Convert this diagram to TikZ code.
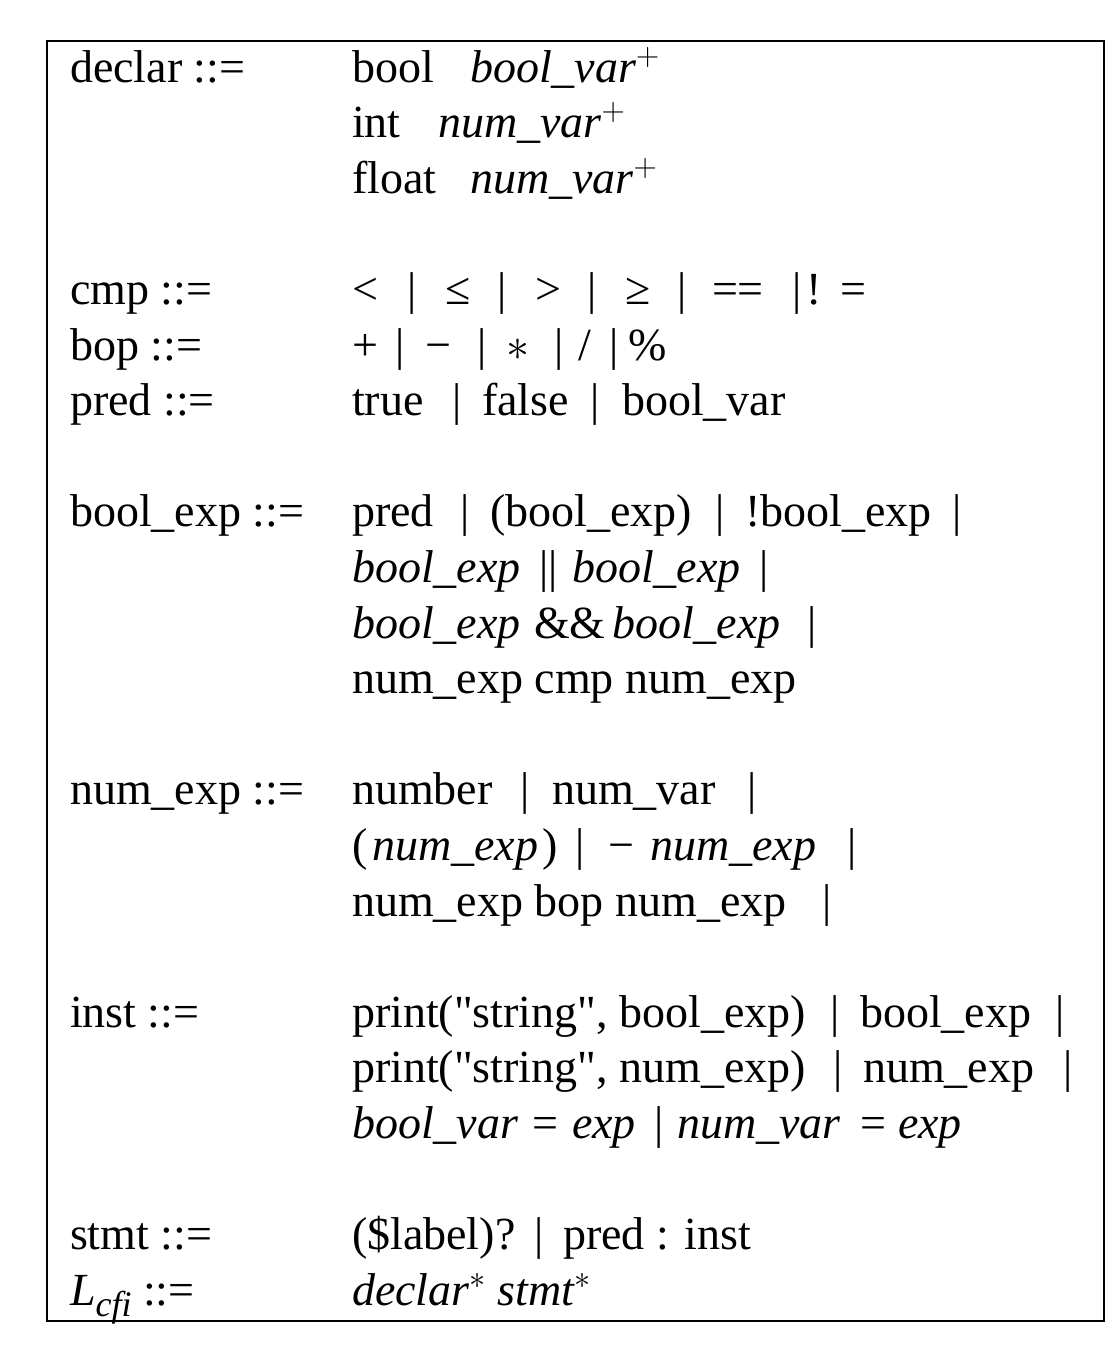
\RequirePackage{fix-cm}
\documentclass[tikz,border=0pt]{standalone}
\usepackage{fontspec}
\setmainfont{Liberation Serif}
\newfontfamily\plainrm{Liberation Serif}
\newcommand\iv[1]{{\itshape #1}}
\newcommand\sups[1]{\ensuremath{^{#1}}}
\newcommand\subs[1]{\raisebox{-0.24em}{\fontsize{36}{36}\selectfont\itshape #1}}
\tikzset{
  txt/.style={anchor=base west, inner sep=0pt, outer sep=0pt, font=\fontsize{46}{55}\selectfont},
  vbar/.style={anchor=base, inner sep=0pt, outer sep=0pt, font=\fontsize{46}{55}\selectfont},
  frame/.style={draw=black, line width=2.2pt}
}
\begin{document}
\begin{tikzpicture}[x=1pt,y=-1pt]
\useasboundingbox (0,0) rectangle (1118,1346);
\draw[frame] (47,41) rectangle (1104,1321);
% declar
\node[txt] (Ldeclar) at (70,82) {declar ::=};
\node[txt] (a0) at (352,82) {bool};
\node[txt] (a1) at (470,82) {\iv{bool\_var}\sups{+}};
\node[txt] (b0) at (352,137.6) {int};
\node[txt] (b1) at (438,137.6) {\iv{num\_var}\sups{+}};
\node[txt] (c0) at (352,193.2) {float};
\node[txt] (c1) at (470,193.2) {\iv{num\_var}\sups{+}};
% cmp
\node[txt] (Lcmp) at (70,304.4) {cmp ::=};
\node[txt] (d0) at (352,304.4) {<};
\node[vbar] (d1) at (412,304.4) {|};
\node[txt] (d2) at (445,304.4) {≤};
\node[vbar] (d3) at (502,304.4) {|};
\node[txt] (d4) at (535,304.4) {>};
\node[vbar] (d5) at (592,304.4) {|};
\node[txt] (d6) at (625,304.4) {≥};
\node[vbar] (d7) at (682,304.4) {|};
\node[txt] (d8) at (712,304.4) {==};
\node[vbar] (d9) at (797,304.4) {|};
\node[txt] (d10) at (806,304.4) {!};
\node[txt] (d11) at (840,304.4) {=};
% bop
\node[txt] (Lbop) at (70,360) {bop ::=};
\node[txt] (e0) at (352,360) {+};
\node[vbar] (e1) at (400,360) {|};
\node[txt] (e2) at (425,360) {−};
\node[vbar] (e3) at (482,360) {|};
\node[txt] (e4) at (506,360) {$\ast$};
\node[vbar] (e5) at (559,360) {|};
\node[txt] (e6) at (578,360) {/};
\node[vbar] (e7) at (614,360) {|};
\node[txt] (e8) at (628,360) {\%};
% pred
\node[txt] (Lpred) at (70,415.6) {pred ::=};
\node[txt] (f0) at (352,415.6) {true};
\node[vbar] (f1) at (457,415.6) {|};
\node[txt] (f2) at (482,415.6) {false};
\node[vbar] (f3) at (595,415.6) {|};
\node[txt] (f4) at (622,415.6) {bool\_var};
% bool_exp
\node[txt] (Lbexp) at (70,526.8) {bool\_exp ::=};
\node[txt] (g0) at (352,526.8) {pred};
\node[vbar] (g1) at (465,526.8) {|};
\node[txt] (g2) at (490,526.8) {(bool\_exp)};
\node[vbar] (g3) at (720,526.8) {|};
\node[txt] (g4) at (745,526.8) {!bool\_exp};
\node[vbar] (g5) at (957,526.8) {|};
\node[txt] (h0) at (352,582.4) {\iv{bool\_exp}};
\node[vbar] (h1) at (549,582.4) {||};
\node[txt] (h2) at (572,582.4) {\iv{bool\_exp}};
\node[vbar] (h3) at (764,582.4) {|};
\node[txt] (i0) at (352,638) {\iv{bool\_exp}};
\node[txt] (i1) at (534,638) {\&\&};
\node[txt] (i2) at (612,638) {\iv{bool\_exp}};
\node[vbar] (i3) at (812,638) {|};
\node[txt] (j0) at (352,693.6) {num\_exp cmp num\_exp};
% num_exp
\node[txt] (Lnexp) at (70,804.8) {num\_exp ::=};
\node[txt] (k0) at (352,804.8) {number};
\node[vbar] (k1) at (525,804.8) {|};
\node[txt] (k2) at (552,804.8) {num\_var};
\node[vbar] (k3) at (752,804.8) {|};
\node[txt] (l0) at (352,860.4) {(};
\node[txt] (l1) at (372,860.4) {\iv{num\_exp}};
\node[txt] (l2) at (542,860.4) {)};
\node[vbar] (l3) at (580,860.4) {|};
\node[txt] (l4) at (608,860.4) {−};
\node[txt] (l5) at (650,860.4) {\iv{num\_exp}};
\node[vbar] (l6) at (852,860.4) {|};
\node[txt] (m0) at (352,916) {num\_exp bop num\_exp};
\node[vbar] (m1) at (827,916) {|};
% inst
\node[txt] (Linst) at (70,1027.2) {inst ::=};
\node[txt] (n0) at (352,1027.2) {\plainrm print("string", bool\_exp)};
\node[vbar] (n1) at (835,1027.2) {|};
\node[txt] (n2) at (860,1027.2) {bool\_exp};
\node[vbar] (n3) at (1060,1027.2) {|};
\node[txt] (o0) at (352,1082.8) {\plainrm print("string", num\_exp)};
\node[vbar] (o1) at (838,1082.8) {|};
\node[txt] (o2) at (863,1082.8) {num\_exp};
\node[vbar] (o3) at (1068,1082.8) {|};
\node[txt] (p0) at (352,1138.4) {\iv{bool\_var}};
\node[txt] (p1) at (532,1138.4) {=};
\node[txt] (p2) at (572,1138.4) {\iv{exp}};
\node[vbar] (p3) at (659,1138.4) {|};
\node[txt] (p4) at (677,1138.4) {\iv{num\_var}};
\node[txt] (p5) at (860,1138.4) {=};
\node[txt] (p6) at (898,1138.4) {\iv{exp}};
% stmt
\node[txt] (Lstmt) at (70,1249.6) {stmt ::=};
\node[txt] (q0) at (352,1249.6) {(\$label)?};
\node[vbar] (q1) at (539,1249.6) {|};
\node[txt] (q2) at (563,1249.6) {pred : inst};
% L_cfi
\node[txt] (LL) at (70,1305.2) {\iv{L}\subs{cfi} ::=};
\node[txt] (r0) at (352,1305.2) {\iv{declar}\sups{\ast} \iv{stmt}\sups{\ast}};
\end{tikzpicture}
\end{document}
